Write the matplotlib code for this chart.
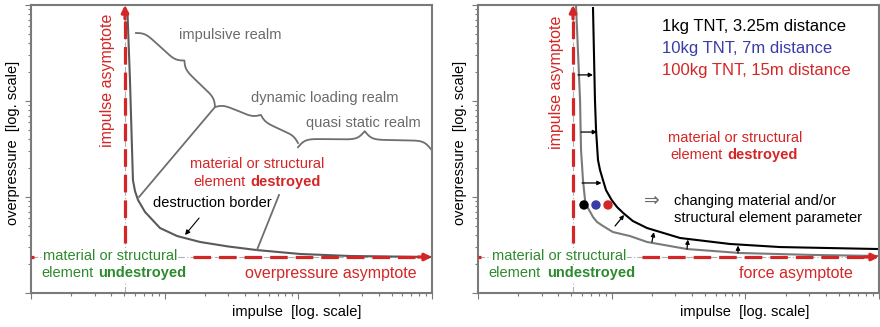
import numpy as np
import matplotlib.pyplot as plt

plt.rcParams['font.family'] = ['Liberation Sans', 'DejaVu Sans']

# --------------------------------------------------------------------------- #
#  Values (impulse, overpressure), both log axes 1..1000
# --------------------------------------------------------------------------- #

# left panel: destruction border
border_imp = [5.27, 5.50, 5.79, 6.0, 6.32, 7.13, 9.23, 12.4, 18.4, 30.0, 49.0, 103, 243, 1000]
border_ovp = [830, 166, 15.0, 11.5, 9.3, 6.98, 4.75, 3.92, 3.40, 3.05, 2.80, 2.55, 2.43, 2.37]

# asymptotes (impulse / overpressure) and where the red dashes start
left_asym_imp, left_asym_ovp = 5.05, 2.37
right_asym_imp, right_asym_ovp = 5.14, 2.37
dash_start_ovp = 3.32
left_dash_start_imp = 16.3
right_dash_start_imp = 16.9

# pointer lines from the realm braces / labels onto the border
junction = (23.8, 86.6)
junction_end = (6.43, 10.0)
destroyed_line = [(71.7, 10.5), (49.0, 2.80)]
border_arrow = [(18.1, 6.04), (14.2, 4.02)]

# braces: start, end, depth in px
braces = [
    ((6.10, 511), (23.8, 86.6), 13),
    ((23.8, 86.6), (99.4, 36.5), 11),
    ((99.4, 33.0), (982, 31.5), 17),
]

# right panel: initial border (gray) and shifted border (black)
init_imp = [5.41, 5.80, 5.90, 6.10, 6.32, 6.65, 7.25, 7.77, 8.61, 10.2, 13.7, 18.4, 36.6, 91.2, 321, 1000]
init_ovp = [1000, 102, 30.9, 15.0, 9.3, 7.68, 6.19, 5.49, 4.99, 4.32, 3.92, 3.40, 2.87, 2.61, 2.49, 2.43]
shift_imp = [7.25, 7.50, 7.64, 7.90, 8.18, 8.61, 9.07, 10.0, 10.96, 12.2, 14.4, 18.4, 32.5, 76.8, 182, 1000]
shift_ovp = [930, 102, 49.9, 24.3, 19.1, 15.0, 11.8, 9.3, 7.87, 6.81, 5.62, 4.75, 3.74, 3.24, 3.01, 2.87]

shift_from = [(5.60, 187), (5.90, 47.5), (6.0, 14.0), (10.6, 4.99), (20.0, 3.40), (36.6, 2.87), (88.1, 2.61)]
shift_to = [(7.25, 187), (7.77, 47.5), (8.4, 14.0), (12.4, 6.5), (20.7, 4.3), (37.2, 3.6), (88.1, 3.12)]

# charges
charge_labels = ["1kg TNT, 3.25m distance", "10kg TNT, 7m distance", "100kg TNT, 15m distance"]
charge_imp = [6.21, 7.63, 9.39]
charge_ovp = [8.26, 8.26, 8.26]

RED = '#d42626'
BLUE = '#3a3ca8'
GREEN = '#2e8a2e'
GRAY = '#6a6a6a'
charge_colors = ['black', BLUE, RED]

FS = 10.5
FS_BIG = 11.5
FS_TNT = 12

# --------------------------------------------------------------------------- #
#  Figure
# --------------------------------------------------------------------------- #

W, H = 880, 327
fig = plt.figure(figsize=(W / 100, H / 100), dpi=100)


def axes_px(x0, x1, y0, y1):
    return fig.add_axes([x0 / W, 1 - y1 / H, (x1 - x0) / W, (y1 - y0) / H])


ax1 = axes_px(31, 432, 5, 293)
ax2 = axes_px(478, 879, 5, 293)

for ax in (ax1, ax2):
    ax.set_xscale('log')
    ax.set_yscale('log')
    ax.set_xlim(1, 1000)
    ax.set_ylim(1, 1000)
    for s in ax.spines.values():
        s.set_color('#7a7a7a')
        s.set_linewidth(1.5)
    ax.tick_params(which='both', direction='out', color='#7a7a7a',
                   labelbottom=False, labelleft=False, width=0.8)
    ax.tick_params(which='major', length=4)
    ax.tick_params(which='minor', length=2.5)


def brace(ax, p0, p1, depth, beta=0.28, **kw):
    a = ax.transData.transform(p0)
    b = ax.transData.transform(p1)
    d = b - a
    L = np.hypot(*d)
    n = np.array([-d[1], d[0]]) / L
    s = np.linspace(0, 0.5, 100)
    h = 1 / (1 + np.exp(-beta * s * L)) + 1 / (1 + np.exp(-beta * (s - 0.5) * L)) - 0.5
    s_full = np.concatenate([s, 1 - s[::-1]])
    h_full = np.concatenate([h, h[::-1]])
    pts = a + np.outer(s_full, d) + depth * np.outer(h_full, n)
    pts = ax.transData.inverted().transform(pts)
    ax.plot(pts[:, 0], pts[:, 1], **kw)


def asymptotes(ax, ax_imp, ax_ovp, dash_imp):
    # thin gray true asymptotes under the red dashes
    ax.axvline(ax_imp, color='#b0b0b0', lw=0.8, ls=(0, (6, 2, 1, 2)), zorder=1)
    ax.axhline(ax_ovp, color='#b0b0b0', lw=0.8, ls=(0, (6, 2, 1, 2)), zorder=1)
    ax.plot([ax_imp, ax_imp], [dash_start_ovp, 900], color=RED, lw=2.3,
            ls=(0, (5.5, 2.5)), zorder=3)
    ax.plot([dash_imp, 900], [ax_ovp, ax_ovp], color=RED, lw=2.3,
            ls=(0, (5.5, 2.5)), zorder=3)
    ax.plot([1, 1.05], [ax_ovp, ax_ovp], color=RED, lw=2.3, zorder=3,
            solid_capstyle='butt')
    ax.annotate('', xy=(ax_imp, 1000), xytext=(0, -10), textcoords='offset points',
                arrowprops=dict(arrowstyle='-|>', color=RED, lw=2.3,
                                mutation_scale=10, shrinkA=0, shrinkB=0), zorder=4)
    ax.annotate('', xy=(1000, ax_ovp), xytext=(-10, 0), textcoords='offset points',
                arrowprops=dict(arrowstyle='-|>', color=RED, lw=2.3,
                                mutation_scale=10, shrinkA=0, shrinkB=0), zorder=4)


def common_labels(ax, imp_x, asym_x, asym_y, green_x, green_split, asym_label, asym_label_x):
    ax.text(-0.046, 0.521, 'overpressure  [log. scale]', rotation=90, ha='center',
            va='center', fontsize=FS, transform=ax.transAxes)
    ax.text(imp_x, -0.066, 'impulse  [log. scale]', ha='center', va='center',
            fontsize=FS, transform=ax.transAxes)
    ax.text(asym_x, asym_y, 'impulse asymptote', rotation=90, ha='center', va='center',
            fontsize=FS_BIG, color=RED, transform=ax.transAxes,
            bbox=dict(fc='white', ec='none', pad=0.5), zorder=5)
    ax.text(green_x, 0.128, 'material or structural', ha='center', va='center',
            fontsize=FS, color=GREEN, transform=ax.transAxes,
            bbox=dict(fc='white', ec='none', pad=0.5), zorder=5)
    ax.text(green_split[0], 0.069, 'element', ha='right', va='center', fontsize=FS,
            color=GREEN, transform=ax.transAxes,
            bbox=dict(fc='white', ec='none', pad=0.5), zorder=5)
    ax.text(green_split[1], 0.069, 'undestroyed', ha='left', va='center', fontsize=FS,
            color=GREEN, fontweight='bold', transform=ax.transAxes,
            bbox=dict(fc='white', ec='none', pad=0.5), zorder=5)
    ax.text(asym_label_x, 0.069, asym_label, ha='center', va='center',
            fontsize=FS_BIG, color=RED, transform=ax.transAxes)


# ---------------- left panel ---------------- #
asymptotes(ax1, left_asym_imp, left_asym_ovp, left_dash_start_imp)
ax1.plot(border_imp, border_ovp, color='#5a5a5a', lw=1.5, zorder=2)

for p0, p1, dep in braces:
    brace(ax1, p0, p1, dep, color='#6e6e6e', lw=1.3)
ax1.plot([junction[0], junction_end[0]], [junction[1], junction_end[1]], color='#6e6e6e', lw=1.3)
ax1.plot(*zip(*destroyed_line), color='#6e6e6e', lw=1.3)
ax1.annotate('', xy=border_arrow[1], xytext=border_arrow[0],
             arrowprops=dict(arrowstyle='-|>', color='black', lw=0.8,
                             mutation_scale=7, shrinkA=0, shrinkB=0))

ax1.text(0.496, 0.896, 'impulsive realm', ha='center', va='center', fontsize=FS,
         color=GRAY, transform=ax1.transAxes)
ax1.text(0.733, 0.677, 'dynamic loading realm', ha='center', va='center', fontsize=FS,
         color=GRAY, transform=ax1.transAxes)
ax1.text(0.828, 0.590, 'quasi static realm', ha='center', va='center', fontsize=FS,
         color=GRAY, transform=ax1.transAxes)
ax1.text(0.564, 0.448, 'material or structural', ha='center', va='center', fontsize=FS,
         color=RED, transform=ax1.transAxes)
ax1.text(0.534, 0.385, 'element', ha='right', va='center', fontsize=FS,
         color=RED, transform=ax1.transAxes)
ax1.text(0.546, 0.385, 'destroyed', ha='left', va='center', fontsize=FS,
         color=RED, fontweight='bold', transform=ax1.transAxes)
ax1.text(0.451, 0.3125, 'destruction border', ha='center', va='center', fontsize=FS,
         color='black', transform=ax1.transAxes)
common_labels(ax1, 0.663, 0.190, 0.740, 0.198, (0.155, 0.167),
              'overpressure asymptote', 0.747)

# ---------------- right panel ---------------- #
asymptotes(ax2, right_asym_imp, right_asym_ovp, right_dash_start_imp)
ax2.plot(init_imp, init_ovp, color='#7a7a7a', lw=1.5, zorder=2)
ax2.plot(shift_imp, shift_ovp, color='black', lw=1.5, zorder=2)
for p0, p1 in zip(shift_from, shift_to):
    ax2.annotate('', xy=p1, xytext=p0,
                 arrowprops=dict(arrowstyle='-|>', color='black', lw=0.9,
                                 mutation_scale=6, shrinkA=0, shrinkB=0))
ax2.scatter(charge_imp, charge_ovp, s=46, c=charge_colors, zorder=6, linewidths=0)

for i, (lab, col) in enumerate(zip(charge_labels, charge_colors)):
    ax2.text(0.459, 0.924 - i * 0.0765, lab, ha='left', va='center', fontsize=FS_TNT,
             color=col, transform=ax2.transAxes)

ax2.text(0.641, 0.538, 'material or structural', ha='center', va='center', fontsize=FS,
         color=RED, transform=ax2.transAxes)
ax2.text(0.611, 0.479, 'element', ha='right', va='center', fontsize=FS,
         color=RED, transform=ax2.transAxes)
ax2.text(0.623, 0.479, 'destroyed', ha='left', va='center', fontsize=FS,
         color=RED, fontweight='bold', transform=ax2.transAxes)
ax2.text(0.434, 0.318, '\u21d2', ha='center', va='center', fontsize=FS + 3,
         color=GRAY, transform=ax2.transAxes)
ax2.text(0.489, 0.319, 'changing material and/or', ha='left', va='center', fontsize=FS,
         transform=ax2.transAxes)
ax2.text(0.489, 0.260, 'structural element parameter', ha='left', va='center', fontsize=FS,
         transform=ax2.transAxes)
common_labels(ax2, 0.666, 0.197, 0.733, 0.203, (0.157, 0.172),
              'force asymptote', 0.794)

fig.savefig('out.png', dpi=100)
